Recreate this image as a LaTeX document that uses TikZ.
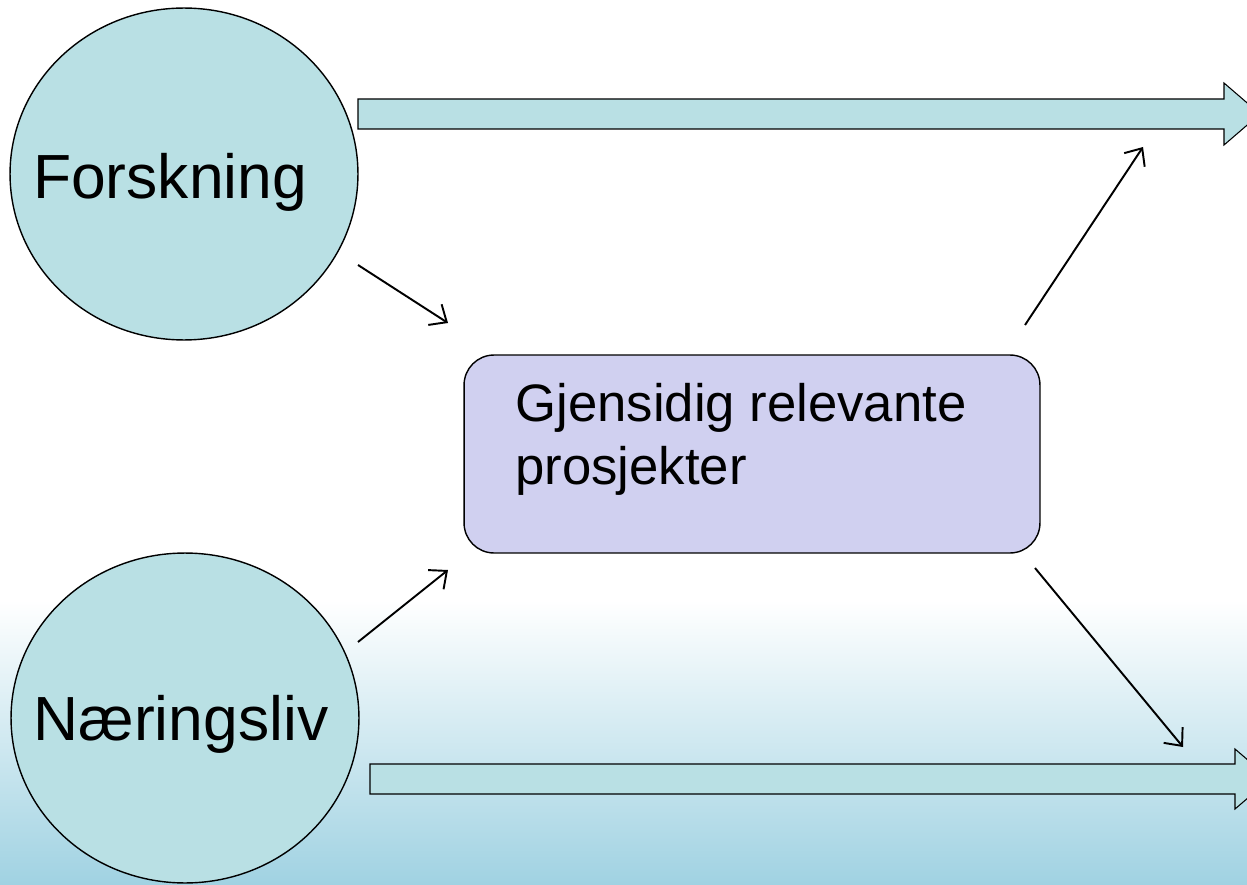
\documentclass[tikz,border=0pt]{standalone}
\usepackage{fontspec}
\setmainfont{Liberation Sans}
\usetikzlibrary{shapes.geometric,arrows.meta}
\definecolor{circfill}{RGB}{185,224,228}
\definecolor{boxfill}{RGB}{208,208,240}
\definecolor{bgblue}{RGB}{160,210,226}
\begin{document}
\begin{tikzpicture}[x=0.02cm, y=-0.02cm]

\useasboundingbox (0,0) rectangle (1247,885);
\shade[top color=white, bottom color=bgblue] (0,600) rectangle (1247,885);

\node[ellipse, draw, line width=0.8pt, fill=circfill, inner sep=0pt, minimum width=6.96cm, minimum height=6.64cm] (forsk) at (184,174) {};
\node[ellipse, draw, line width=0.8pt, fill=circfill, inner sep=0pt, minimum width=6.96cm, minimum height=6.60cm] (naer) at (185,718) {};
\node[font=\fontsize{35.5}{42}\selectfont] (forsktxt) at (170,182) {Forskning};
\node[font=\fontsize{35.5}{42}\selectfont] (naertxt) at (181,724) {Næringsliv};

\node[draw, line width=0.8pt, rounded corners=0.6cm, fill=boxfill, minimum width=11.52cm, minimum height=3.96cm] (prosj) at (752,454) {};
\node[anchor=north west, align=left, inner sep=0pt, font=\fontsize{30}{36}\selectfont] (prosjtxt) at (515,383) {Gjensidig relevante\\prosjekter};

\draw[line width=0.6pt, fill=circfill] (358,99) -- (1224,99) -- (1224,83) -- (1260,114) -- (1224,145) -- (1224,129) -- (358,129) -- cycle;
\draw[line width=0.6pt, fill=circfill] (370,764) -- (1235,764) -- (1235,749) -- (1270,779) -- (1235,809) -- (1235,794) -- (370,794) -- cycle;

\coordinate (a1) at (358,265);
\coordinate (a2) at (448,323);
\coordinate (b1) at (358,642);
\coordinate (b2) at (448,570);
\coordinate (c1) at (1025,325);
\coordinate (c2) at (1143,147);
\coordinate (d1) at (1035,568);
\coordinate (d2) at (1183,747);

\draw[-{Straight Barb[length=8pt,width=14pt]}, line width=1.1pt] (a1) -- (a2);
\draw[-{Straight Barb[length=8pt,width=14pt]}, line width=1.1pt] (b1) -- (b2);
\draw[-{Straight Barb[length=8pt,width=14pt]}, line width=1.1pt] (c1) -- (c2);
\draw[-{Straight Barb[length=8pt,width=14pt]}, line width=1.1pt] (d1) -- (d2);

\end{tikzpicture}
\end{document}
